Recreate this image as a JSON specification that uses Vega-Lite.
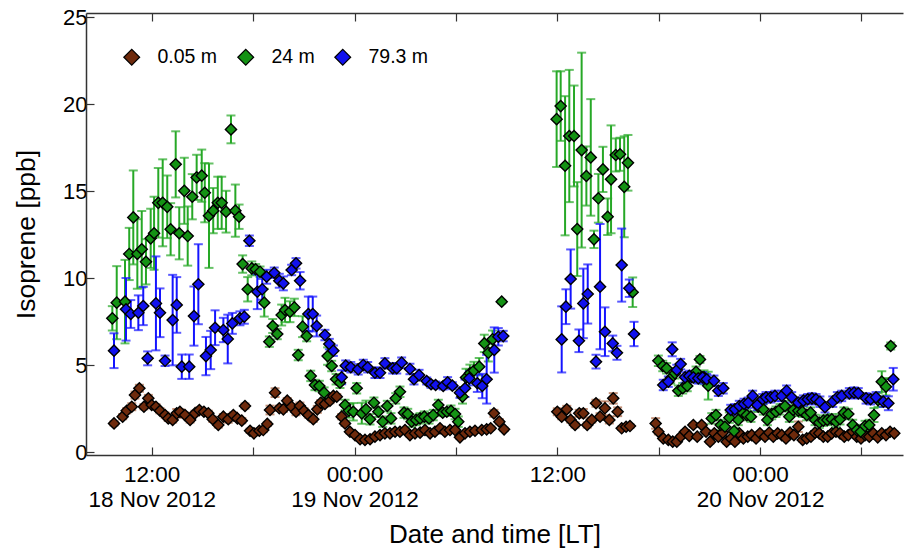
{
"$schema": "https://vega.github.io/schema/vega-lite/v6.json",
"width": 817, "height": 442,
"autosize": {"type": "none"},
"padding": {"left": 86, "top": 13, "right": 1, "bottom": 94},
"background": "white",
"config": {"view": {"stroke": null}, "font": "Liberation Sans"},
"datasets": {
"pts": [
{"s":"0.05 m","h":9.77,"v":1.66,"e":0.12},{"s":"0.05 m","h":10.28,"v":2.05,"e":0.15},{"s":"0.05 m","h":10.52,"v":2.39,"e":0.15},{"s":"0.05 m","h":10.82,"v":2.62,"e":0.2},{"s":"0.05 m","h":11.01,"v":3.29,"e":0.2},{"s":"0.05 m","h":11.27,"v":3.68,"e":0.2},{"s":"0.05 m","h":11.54,"v":2.62,"e":0.15},{"s":"0.05 m","h":11.8,"v":3.1,"e":0.2},{"s":"0.05 m","h":12.0,"v":2.72,"e":0.15},{"s":"0.05 m","h":12.25,"v":2.62,"e":0.15},{"s":"0.05 m","h":12.49,"v":2.39,"e":0.15},{"s":"0.05 m","h":12.79,"v":2.14,"e":0.15},{"s":"0.05 m","h":12.98,"v":1.95,"e":0.15},{"s":"0.05 m","h":13.24,"v":1.86,"e":0.15},{"s":"0.05 m","h":13.48,"v":2.24,"e":0.25},{"s":"0.05 m","h":13.67,"v":2.33,"e":0.15},{"s":"0.05 m","h":13.97,"v":2.14,"e":0.15},{"s":"0.05 m","h":14.27,"v":1.86,"e":0.15},{"s":"0.05 m","h":14.56,"v":2.24,"e":0.15},{"s":"0.05 m","h":14.82,"v":2.43,"e":0.15},{"s":"0.05 m","h":15.09,"v":2.33,"e":0.15},{"s":"0.05 m","h":15.35,"v":2.24,"e":0.15},{"s":"0.05 m","h":15.61,"v":1.9,"e":0.15},{"s":"0.05 m","h":15.94,"v":1.57,"e":0.15},{"s":"0.05 m","h":16.24,"v":2.05,"e":0.15},{"s":"0.05 m","h":16.53,"v":1.9,"e":0.2},{"s":"0.05 m","h":16.83,"v":2.14,"e":0.15},{"s":"0.05 m","h":17.07,"v":1.95,"e":0.15},{"s":"0.05 m","h":17.33,"v":1.82,"e":0.15},{"s":"0.05 m","h":17.52,"v":2.66,"e":0.15},{"s":"0.05 m","h":17.82,"v":1.24,"e":0.12},{"s":"0.05 m","h":18.05,"v":1.09,"e":0.12},{"s":"0.05 m","h":18.37,"v":1.24,"e":0.12},{"s":"0.05 m","h":18.6,"v":1.28,"e":0.12},{"s":"0.05 m","h":18.84,"v":1.63,"e":0.12},{"s":"0.05 m","h":19.0,"v":2.43,"e":0.25},{"s":"0.05 m","h":19.3,"v":3.43,"e":0.25},{"s":"0.05 m","h":19.55,"v":2.53,"e":0.15},{"s":"0.05 m","h":19.79,"v":2.47,"e":0.15},{"s":"0.05 m","h":20.02,"v":2.97,"e":0.15},{"s":"0.05 m","h":20.28,"v":2.62,"e":0.15},{"s":"0.05 m","h":20.54,"v":2.33,"e":0.2},{"s":"0.05 m","h":20.77,"v":2.66,"e":0.2},{"s":"0.05 m","h":21.01,"v":2.39,"e":0.15},{"s":"0.05 m","h":21.27,"v":2.14,"e":0.15},{"s":"0.05 m","h":21.56,"v":1.9,"e":0.15},{"s":"0.05 m","h":21.8,"v":2.47,"e":0.2},{"s":"0.05 m","h":22.0,"v":2.85,"e":0.15},{"s":"0.05 m","h":22.25,"v":2.78,"e":0.15},{"s":"0.05 m","h":22.55,"v":2.97,"e":0.15},{"s":"0.05 m","h":22.75,"v":3.24,"e":0.15},{"s":"0.05 m","h":22.95,"v":3.2,"e":0.15},{"s":"0.05 m","h":23.24,"v":2.05,"e":0.15},{"s":"0.05 m","h":23.44,"v":1.66,"e":0.15},{"s":"0.05 m","h":23.73,"v":1.18,"e":0.1},{"s":"0.05 m","h":24.03,"v":0.99,"e":0.1},{"s":"0.05 m","h":24.33,"v":0.75,"e":0.1},{"s":"0.05 m","h":24.62,"v":0.71,"e":0.1},{"s":"0.05 m","h":24.92,"v":0.75,"e":0.1},{"s":"0.05 m","h":25.21,"v":0.9,"e":0.1},{"s":"0.05 m","h":25.51,"v":0.99,"e":0.1},{"s":"0.05 m","h":25.8,"v":1.09,"e":0.1},{"s":"0.05 m","h":26.1,"v":1.09,"e":0.1},{"s":"0.05 m","h":26.4,"v":1.18,"e":0.1},{"s":"0.05 m","h":26.69,"v":1.18,"e":0.1},{"s":"0.05 m","h":26.99,"v":1.28,"e":0.1},{"s":"0.05 m","h":27.28,"v":0.99,"e":0.1},{"s":"0.05 m","h":27.58,"v":1.09,"e":0.1},{"s":"0.05 m","h":27.88,"v":1.13,"e":0.1},{"s":"0.05 m","h":28.17,"v":1.28,"e":0.1},{"s":"0.05 m","h":28.47,"v":1.09,"e":0.1},{"s":"0.05 m","h":28.76,"v":1.18,"e":0.1},{"s":"0.05 m","h":29.06,"v":1.38,"e":0.1},{"s":"0.05 m","h":29.35,"v":1.18,"e":0.1},{"s":"0.05 m","h":29.65,"v":1.28,"e":0.1},{"s":"0.05 m","h":29.95,"v":1.28,"e":0.1},{"s":"0.05 m","h":30.24,"v":0.86,"e":0.1},{"s":"0.05 m","h":30.54,"v":1.09,"e":0.1},{"s":"0.05 m","h":30.83,"v":1.18,"e":0.1},{"s":"0.05 m","h":31.13,"v":1.24,"e":0.1},{"s":"0.05 m","h":31.53,"v":1.28,"e":0.1},{"s":"0.05 m","h":31.82,"v":1.32,"e":0.1},{"s":"0.05 m","h":32.06,"v":1.38,"e":0.1},{"s":"0.05 m","h":32.25,"v":2.24,"e":0.2},{"s":"0.05 m","h":32.57,"v":1.76,"e":0.15},{"s":"0.05 m","h":32.85,"v":1.32,"e":0.1},
{"s":"0.05 m","h":36.0,"v":2.33,"e":0.2},{"s":"0.05 m","h":36.26,"v":2.05,"e":0.15},{"s":"0.05 m","h":36.56,"v":2.47,"e":0.2},{"s":"0.05 m","h":36.79,"v":1.86,"e":0.15},{"s":"0.05 m","h":37.05,"v":1.57,"e":0.15},{"s":"0.05 m","h":37.3,"v":2.24,"e":0.2},{"s":"0.05 m","h":37.54,"v":2.24,"e":0.25},{"s":"0.05 m","h":37.77,"v":1.57,"e":0.15},{"s":"0.05 m","h":38.04,"v":1.86,"e":0.15},{"s":"0.05 m","h":38.29,"v":2.82,"e":0.2},{"s":"0.05 m","h":38.53,"v":2.05,"e":0.2},{"s":"0.05 m","h":38.82,"v":2.53,"e":0.4},{"s":"0.05 m","h":39.08,"v":1.86,"e":0.2},{"s":"0.05 m","h":39.31,"v":3.1,"e":0.3},{"s":"0.05 m","h":39.57,"v":2.33,"e":0.25},{"s":"0.05 m","h":39.81,"v":1.38,"e":0.1},{"s":"0.05 m","h":40.07,"v":1.47,"e":0.1},{"s":"0.05 m","h":40.3,"v":1.51,"e":0.1},
{"s":"0.05 m","h":41.82,"v":1.66,"e":0.3},{"s":"0.05 m","h":41.98,"v":1.18,"e":0.15},{"s":"0.05 m","h":42.27,"v":0.8,"e":0.1},{"s":"0.05 m","h":42.57,"v":0.71,"e":0.1},{"s":"0.05 m","h":42.83,"v":0.61,"e":0.1},{"s":"0.05 m","h":43.07,"v":0.61,"e":0.1},{"s":"0.05 m","h":43.3,"v":0.9,"e":0.1},{"s":"0.05 m","h":43.56,"v":1.18,"e":0.1},{"s":"0.05 m","h":43.81,"v":0.94,"e":0.1},{"s":"0.05 m","h":44.05,"v":1.57,"e":0.1},{"s":"0.05 m","h":44.28,"v":0.9,"e":0.1},{"s":"0.05 m","h":44.54,"v":1.57,"e":0.1},{"s":"0.05 m","h":44.8,"v":1.18,"e":0.1},{"s":"0.05 m","h":45.04,"v":0.61,"e":0.1},{"s":"0.05 m","h":45.29,"v":1.09,"e":0.1},{"s":"0.05 m","h":45.53,"v":0.9,"e":0.1},{"s":"0.05 m","h":45.79,"v":1.13,"e":0.1},{"s":"0.05 m","h":46.02,"v":0.61,"e":0.1},{"s":"0.05 m","h":46.28,"v":0.8,"e":0.1},{"s":"0.05 m","h":46.51,"v":0.61,"e":0.1},{"s":"0.05 m","h":46.77,"v":1.09,"e":0.1},{"s":"0.05 m","h":47.01,"v":0.8,"e":0.1},{"s":"0.05 m","h":47.27,"v":0.9,"e":0.1},{"s":"0.05 m","h":47.5,"v":0.99,"e":0.1},{"s":"0.05 m","h":47.76,"v":0.8,"e":0.1},{"s":"0.05 m","h":47.99,"v":1.09,"e":0.1},{"s":"0.05 m","h":48.29,"v":0.9,"e":0.1},{"s":"0.05 m","h":48.54,"v":1.13,"e":0.1},{"s":"0.05 m","h":48.78,"v":0.9,"e":0.1},{"s":"0.05 m","h":49.04,"v":1.09,"e":0.1},{"s":"0.05 m","h":49.28,"v":0.99,"e":0.1},{"s":"0.05 m","h":49.53,"v":0.8,"e":0.1},{"s":"0.05 m","h":49.77,"v":1.13,"e":0.1},{"s":"0.05 m","h":50.0,"v":0.99,"e":0.1},{"s":"0.05 m","h":50.26,"v":1.47,"e":0.3},{"s":"0.05 m","h":50.52,"v":0.71,"e":0.1},{"s":"0.05 m","h":50.76,"v":0.8,"e":0.1},{"s":"0.05 m","h":51.01,"v":0.9,"e":0.1},{"s":"0.05 m","h":51.25,"v":1.13,"e":0.1},{"s":"0.05 m","h":51.5,"v":1.09,"e":0.1},{"s":"0.05 m","h":51.74,"v":0.9,"e":0.1},{"s":"0.05 m","h":52.0,"v":0.9,"e":0.1},{"s":"0.05 m","h":52.24,"v":1.09,"e":0.1},{"s":"0.05 m","h":52.49,"v":1.18,"e":0.1},{"s":"0.05 m","h":52.73,"v":1.09,"e":0.1},{"s":"0.05 m","h":52.98,"v":0.9,"e":0.1},{"s":"0.05 m","h":53.22,"v":0.99,"e":0.1},{"s":"0.05 m","h":53.48,"v":1.18,"e":0.1},{"s":"0.05 m","h":53.72,"v":0.9,"e":0.1},{"s":"0.05 m","h":53.97,"v":0.8,"e":0.1},{"s":"0.05 m","h":54.21,"v":0.99,"e":0.1},{"s":"0.05 m","h":54.46,"v":0.9,"e":0.1},{"s":"0.05 m","h":54.7,"v":1.09,"e":0.1},{"s":"0.05 m","h":54.96,"v":0.86,"e":0.1},{"s":"0.05 m","h":55.2,"v":1.09,"e":0.1},{"s":"0.05 m","h":55.45,"v":0.99,"e":0.1},{"s":"0.05 m","h":55.69,"v":1.18,"e":0.1},{"s":"0.05 m","h":55.94,"v":1.09,"e":0.1},
{"s":"24 m","h":9.67,"v":7.7,"e":0.7},{"s":"24 m","h":9.93,"v":8.6,"e":2.1},{"s":"24 m","h":10.42,"v":8.66,"e":2.4},{"s":"24 m","h":10.67,"v":11.4,"e":1.5},{"s":"24 m","h":10.91,"v":13.5,"e":2.7},{"s":"24 m","h":11.15,"v":11.4,"e":2.0},{"s":"24 m","h":11.41,"v":11.67,"e":2.2},{"s":"24 m","h":11.66,"v":10.95,"e":1.3},{"s":"24 m","h":11.94,"v":12.3,"e":1.7},{"s":"24 m","h":12.14,"v":12.59,"e":2.1},{"s":"24 m","h":12.39,"v":14.34,"e":2.0},{"s":"24 m","h":12.65,"v":14.34,"e":2.5},{"s":"24 m","h":12.92,"v":14.11,"e":1.8},{"s":"24 m","h":13.12,"v":12.82,"e":1.5},{"s":"24 m","h":13.42,"v":16.55,"e":1.9},{"s":"24 m","h":13.63,"v":12.59,"e":1.5},{"s":"24 m","h":13.93,"v":15.03,"e":1.9},{"s":"24 m","h":14.13,"v":12.43,"e":1.7},{"s":"24 m","h":14.4,"v":14.69,"e":1.3},{"s":"24 m","h":14.66,"v":15.8,"e":1.3},{"s":"24 m","h":14.96,"v":15.9,"e":1.5},{"s":"24 m","h":15.14,"v":14.92,"e":1.7},{"s":"24 m","h":15.39,"v":13.6,"e":3.0},{"s":"24 m","h":15.64,"v":13.89,"e":1.3},{"s":"24 m","h":15.91,"v":14.34,"e":1.5},{"s":"24 m","h":16.14,"v":14.34,"e":1.5},{"s":"24 m","h":16.4,"v":13.83,"e":1.2},{"s":"24 m","h":16.69,"v":18.56,"e":0.8},{"s":"24 m","h":16.95,"v":13.89,"e":1.5},{"s":"24 m","h":17.17,"v":13.54,"e":0.7},{"s":"24 m","h":17.38,"v":10.82,"e":0.5},{"s":"24 m","h":17.68,"v":9.37,"e":0.7},{"s":"24 m","h":17.92,"v":10.57,"e":0.4},{"s":"24 m","h":18.15,"v":10.52,"e":0.3},{"s":"24 m","h":18.41,"v":10.38,"e":0.3},{"s":"24 m","h":18.66,"v":8.6,"e":0.8},{"s":"24 m","h":18.96,"v":6.36,"e":0.3},{"s":"24 m","h":19.16,"v":7.26,"e":0.4},{"s":"24 m","h":19.43,"v":6.8,"e":0.3},{"s":"24 m","h":19.69,"v":7.89,"e":0.6},{"s":"24 m","h":19.89,"v":8.18,"e":0.7},{"s":"24 m","h":20.18,"v":8.08,"e":0.6},{"s":"24 m","h":20.44,"v":8.33,"e":0.5},{"s":"24 m","h":20.67,"v":5.59,"e":0.3},{"s":"24 m","h":20.93,"v":7.22,"e":0.6},{"s":"24 m","h":21.17,"v":6.68,"e":0.3},{"s":"24 m","h":21.41,"v":4.39,"e":0.3},{"s":"24 m","h":21.66,"v":3.87,"e":0.3},{"s":"24 m","h":21.92,"v":3.81,"e":0.3},{"s":"24 m","h":22.2,"v":3.43,"e":0.3},{"s":"24 m","h":22.41,"v":5.53,"e":0.5},{"s":"24 m","h":22.65,"v":4.96,"e":0.3},{"s":"24 m","h":22.91,"v":4.2,"e":0.3},{"s":"24 m","h":23.14,"v":4.0,"e":0.3},{"s":"24 m","h":23.44,"v":2.72,"e":0.3},{"s":"24 m","h":23.67,"v":2.39,"e":0.4},{"s":"24 m","h":23.93,"v":2.33,"e":0.5},{"s":"24 m","h":24.13,"v":3.68,"e":0.3},{"s":"24 m","h":24.43,"v":2.24,"e":0.6},{"s":"24 m","h":24.68,"v":2.47,"e":0.5},{"s":"24 m","h":24.92,"v":1.9,"e":0.3},{"s":"24 m","h":25.15,"v":2.85,"e":0.3},{"s":"24 m","h":25.41,"v":2.33,"e":0.3},{"s":"24 m","h":25.67,"v":1.76,"e":0.3},{"s":"24 m","h":25.94,"v":2.66,"e":0.3},{"s":"24 m","h":26.16,"v":1.95,"e":0.3},{"s":"24 m","h":26.44,"v":3.1,"e":0.3},{"s":"24 m","h":26.69,"v":3.48,"e":0.3},{"s":"24 m","h":26.93,"v":2.28,"e":0.3},{"s":"24 m","h":27.15,"v":2.2,"e":0.3},{"s":"24 m","h":27.38,"v":1.76,"e":0.3},{"s":"24 m","h":27.64,"v":1.86,"e":0.3},{"s":"24 m","h":27.88,"v":1.95,"e":0.3},{"s":"24 m","h":28.13,"v":2.05,"e":0.3},{"s":"24 m","h":28.41,"v":1.95,"e":0.3},{"s":"24 m","h":28.66,"v":2.14,"e":0.3},{"s":"24 m","h":28.96,"v":2.72,"e":0.3},{"s":"24 m","h":29.22,"v":2.28,"e":0.2},{"s":"24 m","h":29.46,"v":2.33,"e":0.2},{"s":"24 m","h":29.71,"v":2.39,"e":0.3},{"s":"24 m","h":29.95,"v":2.2,"e":0.3},{"s":"24 m","h":30.14,"v":1.76,"e":0.3},{"s":"24 m","h":30.39,"v":3.2,"e":0.4},{"s":"24 m","h":30.6,"v":4.3,"e":0.5},{"s":"24 m","h":30.83,"v":4.54,"e":0.5},{"s":"24 m","h":31.07,"v":4.7,"e":0.5},{"s":"24 m","h":31.38,"v":4.92,"e":0.5},{"s":"24 m","h":31.68,"v":6.26,"e":0.5},{"s":"24 m","h":31.92,"v":5.72,"e":0.5},{"s":"24 m","h":32.17,"v":6.5,"e":0.5},{"s":"24 m","h":32.71,"v":8.66,"e":0.1},
{"s":"24 m","h":35.96,"v":19.15,"e":2.75},{"s":"24 m","h":36.2,"v":19.9,"e":2.0},{"s":"24 m","h":36.46,"v":16.47,"e":4.0},{"s":"24 m","h":36.71,"v":18.18,"e":3.8},{"s":"24 m","h":36.99,"v":18.18,"e":2.9},{"s":"24 m","h":37.18,"v":12.83,"e":2.7},{"s":"24 m","h":37.44,"v":17.37,"e":5.6},{"s":"24 m","h":37.72,"v":15.88,"e":1.7},{"s":"24 m","h":37.98,"v":16.95,"e":3.35},{"s":"24 m","h":38.17,"v":12.24,"e":0.5},{"s":"24 m","h":38.43,"v":14.6,"e":1.4},{"s":"24 m","h":38.7,"v":16.26,"e":1.3},{"s":"24 m","h":38.98,"v":13.54,"e":1.05},{"s":"24 m","h":39.18,"v":15.69,"e":3.1},{"s":"24 m","h":39.46,"v":17.09,"e":0.95},{"s":"24 m","h":39.71,"v":17.13,"e":0.95},{"s":"24 m","h":39.96,"v":15.26,"e":2.9},{"s":"24 m","h":40.18,"v":16.64,"e":1.6},{"s":"24 m","h":40.46,"v":9.2,"e":0.85},
{"s":"24 m","h":41.98,"v":5.26,"e":0.3},{"s":"24 m","h":42.24,"v":4.96,"e":0.3},{"s":"24 m","h":42.47,"v":4.83,"e":0.3},{"s":"24 m","h":42.71,"v":4.25,"e":0.3},{"s":"24 m","h":42.96,"v":4.54,"e":0.3},{"s":"24 m","h":43.16,"v":3.54,"e":0.3},{"s":"24 m","h":43.42,"v":3.68,"e":0.3},{"s":"24 m","h":43.69,"v":3.81,"e":0.3},{"s":"24 m","h":43.95,"v":4.34,"e":0.3},{"s":"24 m","h":44.21,"v":4.63,"e":0.3},{"s":"24 m","h":44.44,"v":5.34,"e":0.2},{"s":"24 m","h":44.68,"v":4.31,"e":0.4},{"s":"24 m","h":44.93,"v":3.83,"e":0.8},{"s":"24 m","h":45.14,"v":1.95,"e":0.3},{"s":"24 m","h":45.39,"v":2.14,"e":0.3},{"s":"24 m","h":45.67,"v":1.57,"e":0.3},{"s":"24 m","h":45.92,"v":1.47,"e":0.3},{"s":"24 m","h":46.18,"v":1.99,"e":0.3},{"s":"24 m","h":46.46,"v":1.22,"e":0.2},{"s":"24 m","h":46.71,"v":1.86,"e":0.3},{"s":"24 m","h":46.97,"v":2.28,"e":0.3},{"s":"24 m","h":47.21,"v":2.14,"e":0.3},{"s":"24 m","h":47.46,"v":2.05,"e":0.3},{"s":"24 m","h":47.89,"v":2.62,"e":0.3},{"s":"24 m","h":48.19,"v":2.47,"e":0.3},{"s":"24 m","h":48.43,"v":1.86,"e":0.3},{"s":"24 m","h":48.69,"v":2.2,"e":0.3},{"s":"24 m","h":48.94,"v":2.33,"e":0.3},{"s":"24 m","h":49.18,"v":2.47,"e":0.3},{"s":"24 m","h":49.47,"v":2.66,"e":0.3},{"s":"24 m","h":49.73,"v":2.05,"e":0.3},{"s":"24 m","h":49.96,"v":2.43,"e":0.3},{"s":"24 m","h":50.26,"v":2.39,"e":0.3},{"s":"24 m","h":50.5,"v":2.33,"e":0.3},{"s":"24 m","h":50.76,"v":2.14,"e":0.3},{"s":"24 m","h":50.99,"v":2.28,"e":0.3},{"s":"24 m","h":51.25,"v":1.86,"e":0.3},{"s":"24 m","h":51.5,"v":1.7,"e":0.3},{"s":"24 m","h":51.74,"v":1.82,"e":0.3},{"s":"24 m","h":51.98,"v":1.86,"e":0.3},{"s":"24 m","h":52.24,"v":1.9,"e":0.3},{"s":"24 m","h":52.49,"v":1.76,"e":0.3},{"s":"24 m","h":52.73,"v":1.9,"e":0.3},{"s":"24 m","h":52.96,"v":2.28,"e":0.3},{"s":"24 m","h":53.22,"v":2.2,"e":0.3},{"s":"24 m","h":53.48,"v":1.57,"e":0.3},{"s":"24 m","h":53.72,"v":1.28,"e":0.3},{"s":"24 m","h":53.95,"v":1.18,"e":0.3},{"s":"24 m","h":54.21,"v":1.51,"e":0.3},{"s":"24 m","h":54.46,"v":1.57,"e":0.3},{"s":"24 m","h":54.74,"v":2.14,"e":0.4},{"s":"24 m","h":54.98,"v":3.0,"e":0.4},{"s":"24 m","h":55.2,"v":4.06,"e":0.6},{"s":"24 m","h":55.45,"v":3.77,"e":0.5},{"s":"24 m","h":55.73,"v":6.11,"e":0.2},
{"s":"79.3 m","h":9.77,"v":5.84,"e":1.0},{"s":"79.3 m","h":10.48,"v":8.22,"e":1.8},{"s":"79.3 m","h":10.76,"v":7.95,"e":0.8},{"s":"79.3 m","h":11.21,"v":8.02,"e":1.0},{"s":"79.3 m","h":11.5,"v":8.41,"e":1.1},{"s":"79.3 m","h":11.76,"v":5.4,"e":0.4},{"s":"79.3 m","h":12.25,"v":8.56,"e":2.7},{"s":"79.3 m","h":12.49,"v":8.02,"e":1.4},{"s":"79.3 m","h":12.79,"v":5.26,"e":0.3},{"s":"79.3 m","h":13.24,"v":7.6,"e":2.6},{"s":"79.3 m","h":13.48,"v":8.47,"e":1.6},{"s":"79.3 m","h":13.78,"v":4.92,"e":0.7},{"s":"79.3 m","h":14.22,"v":4.92,"e":0.7},{"s":"79.3 m","h":14.5,"v":7.83,"e":1.7},{"s":"79.3 m","h":14.76,"v":9.66,"e":2.3},{"s":"79.3 m","h":15.21,"v":5.53,"e":1.1},{"s":"79.3 m","h":15.49,"v":5.88,"e":1.1},{"s":"79.3 m","h":15.75,"v":7.16,"e":1.0},{"s":"79.3 m","h":16.24,"v":7.03,"e":0.7},{"s":"79.3 m","h":16.5,"v":6.51,"e":1.4},{"s":"79.3 m","h":16.77,"v":7.41,"e":0.6},{"s":"79.3 m","h":17.22,"v":7.7,"e":0.4},{"s":"79.3 m","h":17.48,"v":7.79,"e":0.4},{"s":"79.3 m","h":17.78,"v":12.16,"e":0.3},{"s":"79.3 m","h":18.25,"v":9.23,"e":1.0},{"s":"79.3 m","h":18.54,"v":9.37,"e":0.6},{"s":"79.3 m","h":18.8,"v":10.09,"e":0.4},{"s":"79.3 m","h":19.25,"v":10.32,"e":0.3},{"s":"79.3 m","h":19.55,"v":9.86,"e":0.4},{"s":"79.3 m","h":19.79,"v":9.71,"e":0.4},{"s":"79.3 m","h":20.28,"v":10.48,"e":0.3},{"s":"79.3 m","h":20.54,"v":10.86,"e":0.3},{"s":"79.3 m","h":20.78,"v":9.86,"e":0.5},{"s":"79.3 m","h":21.27,"v":7.95,"e":1.0},{"s":"79.3 m","h":21.53,"v":7.95,"e":1.0},{"s":"79.3 m","h":21.76,"v":7.26,"e":0.6},{"s":"79.3 m","h":22.25,"v":6.74,"e":0.3},{"s":"79.3 m","h":22.51,"v":6.22,"e":0.3},{"s":"79.3 m","h":22.75,"v":5.84,"e":0.3},{"s":"79.3 m","h":23.24,"v":4.31,"e":0.4},{"s":"79.3 m","h":23.48,"v":4.98,"e":0.3},{"s":"79.3 m","h":23.78,"v":4.89,"e":0.3},{"s":"79.3 m","h":24.22,"v":4.77,"e":0.3},{"s":"79.3 m","h":24.52,"v":5.02,"e":0.3},{"s":"79.3 m","h":24.78,"v":4.89,"e":0.3},{"s":"79.3 m","h":25.21,"v":4.57,"e":0.3},{"s":"79.3 m","h":25.51,"v":4.57,"e":0.3},{"s":"79.3 m","h":25.8,"v":5.11,"e":0.3},{"s":"79.3 m","h":26.26,"v":4.83,"e":0.3},{"s":"79.3 m","h":26.5,"v":4.83,"e":0.3},{"s":"79.3 m","h":26.79,"v":5.15,"e":0.3},{"s":"79.3 m","h":27.28,"v":4.79,"e":0.3},{"s":"79.3 m","h":27.52,"v":4.2,"e":0.3},{"s":"79.3 m","h":27.82,"v":4.44,"e":0.3},{"s":"79.3 m","h":28.27,"v":4.1,"e":0.2},{"s":"79.3 m","h":28.53,"v":3.91,"e":0.2},{"s":"79.3 m","h":28.8,"v":3.87,"e":0.2},{"s":"79.3 m","h":29.25,"v":3.81,"e":0.2},{"s":"79.3 m","h":29.51,"v":4.02,"e":0.3},{"s":"79.3 m","h":29.79,"v":3.83,"e":0.2},{"s":"79.3 m","h":30.24,"v":3.43,"e":0.3},{"s":"79.3 m","h":30.54,"v":3.68,"e":0.5},{"s":"79.3 m","h":30.79,"v":4.25,"e":0.4},{"s":"79.3 m","h":31.27,"v":3.97,"e":0.5},{"s":"79.3 m","h":31.56,"v":3.81,"e":0.7},{"s":"79.3 m","h":31.82,"v":4.2,"e":1.4},{"s":"79.3 m","h":32.27,"v":5.88,"e":1.3},{"s":"79.3 m","h":32.51,"v":6.64,"e":0.5},{"s":"79.3 m","h":32.8,"v":6.68,"e":0.3},
{"s":"79.3 m","h":36.26,"v":6.49,"e":1.9},{"s":"79.3 m","h":36.51,"v":8.37,"e":1.0},{"s":"79.3 m","h":36.79,"v":9.96,"e":1.7},{"s":"79.3 m","h":37.28,"v":6.41,"e":0.65},{"s":"79.3 m","h":37.54,"v":8.56,"e":2.0},{"s":"79.3 m","h":37.8,"v":9.1,"e":1.7},{"s":"79.3 m","h":38.29,"v":5.21,"e":0.4},{"s":"79.3 m","h":38.53,"v":9.52,"e":3.6},{"s":"79.3 m","h":38.82,"v":6.93,"e":1.4},{"s":"79.3 m","h":39.28,"v":6.26,"e":0.45},{"s":"79.3 m","h":39.53,"v":5.72,"e":0.4},{"s":"79.3 m","h":39.81,"v":10.76,"e":2.1},{"s":"79.3 m","h":40.26,"v":9.43,"e":0.5},{"s":"79.3 m","h":40.54,"v":6.8,"e":0.7},
{"s":"79.3 m","h":42.27,"v":3.87,"e":0.3},{"s":"79.3 m","h":42.57,"v":4.06,"e":0.3},{"s":"79.3 m","h":42.8,"v":5.92,"e":0.4},{"s":"79.3 m","h":43.07,"v":4.73,"e":0.3},{"s":"79.3 m","h":43.3,"v":5.07,"e":0.3},{"s":"79.3 m","h":43.56,"v":4.31,"e":0.3},{"s":"79.3 m","h":43.81,"v":4.39,"e":0.3},{"s":"79.3 m","h":44.05,"v":4.31,"e":0.3},{"s":"79.3 m","h":44.34,"v":4.25,"e":0.3},{"s":"79.3 m","h":44.6,"v":4.31,"e":0.3},{"s":"79.3 m","h":44.84,"v":4.2,"e":0.3},{"s":"79.3 m","h":45.27,"v":4.11,"e":0.3},{"s":"79.3 m","h":45.53,"v":3.54,"e":0.3},{"s":"79.3 m","h":45.82,"v":3.68,"e":0.3},{"s":"79.3 m","h":46.26,"v":2.43,"e":0.3},{"s":"79.3 m","h":46.51,"v":2.47,"e":0.3},{"s":"79.3 m","h":46.77,"v":2.66,"e":0.3},{"s":"79.3 m","h":47.05,"v":2.78,"e":0.3},{"s":"79.3 m","h":47.3,"v":2.85,"e":0.3},{"s":"79.3 m","h":47.56,"v":3.24,"e":0.3},{"s":"79.3 m","h":47.83,"v":2.72,"e":0.3},{"s":"79.3 m","h":48.15,"v":3.05,"e":0.3},{"s":"79.3 m","h":48.35,"v":3.16,"e":0.3},{"s":"79.3 m","h":48.63,"v":3.16,"e":0.3},{"s":"79.3 m","h":48.88,"v":3.24,"e":0.3},{"s":"79.3 m","h":49.28,"v":3.24,"e":0.3},{"s":"79.3 m","h":49.57,"v":3.54,"e":0.3},{"s":"79.3 m","h":49.87,"v":3.16,"e":0.3},{"s":"79.3 m","h":50.26,"v":2.85,"e":0.3},{"s":"79.3 m","h":50.56,"v":2.97,"e":0.3},{"s":"79.3 m","h":50.82,"v":3.05,"e":0.3},{"s":"79.3 m","h":51.07,"v":3.1,"e":0.3},{"s":"79.3 m","h":51.31,"v":3.05,"e":0.3},{"s":"79.3 m","h":51.54,"v":2.91,"e":0.3},{"s":"79.3 m","h":51.84,"v":2.59,"e":0.3},{"s":"79.3 m","h":52.3,"v":2.91,"e":0.3},{"s":"79.3 m","h":52.57,"v":3.16,"e":0.3},{"s":"79.3 m","h":52.83,"v":3.24,"e":0.3},{"s":"79.3 m","h":53.28,"v":3.39,"e":0.3},{"s":"79.3 m","h":53.56,"v":3.43,"e":0.3},{"s":"79.3 m","h":53.81,"v":3.39,"e":0.3},{"s":"79.3 m","h":54.27,"v":3.1,"e":0.3},{"s":"79.3 m","h":54.54,"v":3.05,"e":0.3},{"s":"79.3 m","h":54.86,"v":3.16,"e":0.3},{"s":"79.3 m","h":55.29,"v":2.91,"e":0.3},{"s":"79.3 m","h":55.59,"v":2.82,"e":0.4},{"s":"79.3 m","h":55.88,"v":4.2,"e":0.65}
]
},
"data": {"name": "pts"},
"layer": [
{
"transform": [{"filter": "datum.s == '0.05 m'"}],
"mark": {"type": "errorbar", "color": "#a8603c", "ticks": {"size": 9, "thickness": 2}, "rule": {"strokeWidth": 2}},
"encoding": {
"x": {"field": "h", "type": "quantitative",
"scale": {"domain": [8.112, 56.456], "nice": false, "zero": false},
"axis": {"orient": "bottom", "values": [12, 18, 24, 30, 36, 42, 48, 54], "grid": false,
"labelExpr": "datum.value % 12 != 0 ? '' : (datum.value == 12 || datum.value % 24 == 0) ? [timeFormat(datetime(2012,10,18,datum.value),'%H:%M'), timeFormat(datetime(2012,10,18,datum.value),'%-d %b %Y')] : timeFormat(datetime(2012,10,18,datum.value),'%H:%M')",
"title": "Date and time [LT]", "titleFontSize": 26, "titleFontWeight": "normal", "titleColor": "black", "titlePadding": 11,
"labelFontSize": 22.5, "labelColor": "black", "labelPadding": 16, "labelLineHeight": 25, "labelFlush": false, "labelOverlap": false,
"tickSize": -8, "tickColor": "#333", "tickWidth": 1.2, "domainColor": "#333", "domainWidth": 1.5}},
"y": {"field": "v", "type": "quantitative",
"scale": {"domain": [-0.155, 25.25], "nice": false, "zero": false},
"axis": {"orient": "left", "values": [0, 5, 10, 15, 20, 25], "grid": false, "title": "Isoprene [ppb]",
"titleFontSize": 26.5, "titleFontWeight": "normal", "titleColor": "black", "titlePadding": 22,
"labelFontSize": 22, "labelColor": "black", "labelPadding": 7,
"tickSize": -8, "tickColor": "#333", "tickWidth": 1.2, "domainColor": "#333", "domainWidth": 1.5}},
"yError": {"field": "e"}
}
},
{
"transform": [{"filter": "datum.s == '24 m'"}],
"mark": {"type": "errorbar", "color": "#26a826", "ticks": {"size": 9, "thickness": 2}, "rule": {"strokeWidth": 2}},
"encoding": {
"x": {"field": "h", "type": "quantitative", "axis": null},
"y": {"field": "v", "type": "quantitative",
"axis": {"orient": "left", "values": [0, 5, 10, 15, 20, 25], "grid": false, "title": "Isoprene [ppb]",
"titleFontSize": 26.5, "titleFontWeight": "normal", "titleColor": "black", "titlePadding": 22,
"labelFontSize": 22, "labelColor": "black", "labelPadding": 7,
"tickSize": -8, "tickColor": "#333", "tickWidth": 1.2, "domainColor": "#333", "domainWidth": 1.5}},
"yError": {"field": "e"}
}
},
{
"transform": [{"filter": "datum.s == '79.3 m'"}],
"mark": {"type": "errorbar", "color": "#1414ff", "ticks": {"size": 9, "thickness": 2}, "rule": {"strokeWidth": 2}},
"encoding": {
"x": {"field": "h", "type": "quantitative", "axis": null},
"y": {"field": "v", "type": "quantitative",
"axis": {"orient": "left", "values": [0, 5, 10, 15, 20, 25], "grid": false, "title": "Isoprene [ppb]",
"titleFontSize": 26.5, "titleFontWeight": "normal", "titleColor": "black", "titlePadding": 22,
"labelFontSize": 22, "labelColor": "black", "labelPadding": 7,
"tickSize": -8, "tickColor": "#333", "tickWidth": 1.2, "domainColor": "#333", "domainWidth": 1.5}},
"yError": {"field": "e"}
}
},
{
"mark": {"type": "point", "shape": "diamond", "filled": true, "size": 125, "stroke": "black", "strokeWidth": 1.4, "opacity": 1},
"encoding": {
"x": {"field": "h", "type": "quantitative",
"axis": {"orient": "top", "values": [12, 18, 24, 30, 36, 42, 48, 54], "grid": false, "labels": false, "title": null,
"tickSize": -8, "tickColor": "#333", "tickWidth": 1.2, "domainColor": "#333", "domainWidth": 1.5}},
"y": {"field": "v", "type": "quantitative",
"axis": {"orient": "left", "values": [0, 5, 10, 15, 20, 25], "grid": false, "title": "Isoprene [ppb]",
"titleFontSize": 26.5, "titleFontWeight": "normal", "titleColor": "black", "titlePadding": 22,
"labelFontSize": 22, "labelColor": "black", "labelPadding": 7,
"tickSize": -8, "tickColor": "#333", "tickWidth": 1.2, "domainColor": "#333", "domainWidth": 1.5}},
"color": {"field": "s", "type": "nominal",
"scale": {"domain": ["0.05 m", "24 m", "79.3 m"], "range": ["#6e2a0c", "#149214", "#1212ee"]},
"legend": {"orient": "none", "legendX": 36, "legendY": 34, "direction": "horizontal", "title": null,
"symbolType": "diamond", "symbolSize": 250, "symbolStrokeColor": "black", "symbolStrokeWidth": 1.2, "symbolOpacity": 1,
"labelFontSize": 19.5, "labelColor": "black", "labelOffset": 16, "columnPadding": 17, "padding": 0}}
}
}
],
"resolve": {"axis": {"x": "independent"}}
}
